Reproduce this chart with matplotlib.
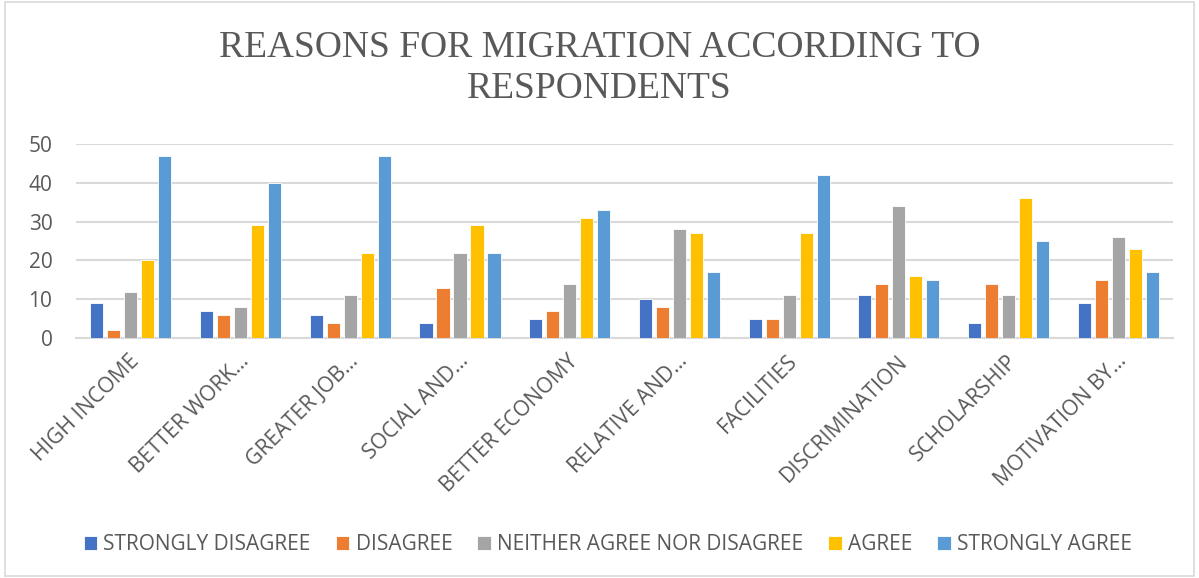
import matplotlib
matplotlib.use("Agg")
import matplotlib.pyplot as plt
import numpy as np
from matplotlib.patches import Rectangle

categories = ["HIGH INCOME", "BETTER WORK…", "GREATER JOB…", "SOCIAL AND…",
              "BETTER ECONOMY", "RELATIVE AND…", "FACILITIES", "DISCRIMINATION",
              "SCHOLARSHIP", "MOTIVATION BY…"]
series_names = ["STRONGLY DISAGREE", "DISAGREE", "NEITHER AGREE NOR DISAGREE",
                "AGREE", "STRONGLY AGREE"]
strongly_disagree = [9, 7, 6, 4, 5, 10, 5, 11, 4, 9]
disagree = [2, 6, 4, 13, 7, 8, 5, 14, 14, 15]
neither = [12, 8, 11, 22, 14, 28, 11, 34, 11, 26]
agree = [20, 29, 22, 29, 31, 27, 27, 16, 36, 23]
strongly_agree = [47, 40, 47, 22, 33, 17, 42, 15, 25, 17]
yticks = [0, 10, 20, 30, 40, 50]

series = [strongly_disagree, disagree, neither, agree, strongly_agree]
colors = ["#4472C4", "#ED7D31", "#A5A5A5", "#FFC000", "#5B9BD5"]
text_color = "#595959"

plt.rcParams["font.family"] = ["Open Sans", "DejaVu Sans"]

fig = plt.figure(figsize=(11.99, 5.78), dpi=100)
ax = fig.add_axes([0.0634, 0.415, 0.915, 0.336])

x = np.arange(len(categories))
width = 0.12
step = 0.155
for i, (vals, name, c) in enumerate(zip(series, series_names, colors)):
    ax.bar(x + (i - 2) * step, vals, width, color=c, label=name,
           edgecolor="white", linewidth=0.6, zorder=3)

ax.set_xlim(-0.5, len(categories) - 0.5)
ax.set_ylim(0, 50)
ax.set_yticks(yticks)
ax.set_yticklabels([str(v) for v in yticks], fontsize=15, color=text_color)
ax.yaxis.grid(True, color="#D9D9D9", linewidth=1.5, zorder=0)
ax.set_axisbelow(True)
for s in ["top", "right", "left"]:
    ax.spines[s].set_visible(False)
ax.spines["bottom"].set_color("#D9D9D9")
ax.spines["bottom"].set_linewidth(1.5)
ax.tick_params(axis="both", length=0)
ax.tick_params(axis="y", pad=17)
ax.set_xticks(x - 0.02)
ax.set_xticklabels(categories, rotation=45, ha="right", va="top",
                   rotation_mode="anchor", fontsize=15.3, color=text_color)
ax.tick_params(axis="x", pad=9)

fig.text(0.5, 0.882, "REASONS FOR MIGRATION ACCORDING TO\nRESPONDENTS",
         ha="center", va="center", fontsize=27, color=text_color,
         family="Liberation Serif", linespacing=1.25)

handles, labels = ax.get_legend_handles_labels()
leg = fig.legend(handles, labels, loc="center", bbox_to_anchor=(0.507, 0.058),
                 ncol=5, frameon=False, fontsize=15, handlelength=0.65,
                 handleheight=0.65, handletextpad=0.3, columnspacing=1.2)
for t in leg.get_texts():
    t.set_color(text_color)

fig.patches.append(Rectangle((0.004, 0.004), 0.992, 0.992, transform=fig.transFigure,
                             fill=False, edgecolor="#D9D9D9", linewidth=1.2))

fig.savefig("out.png", dpi=100, facecolor="white")
